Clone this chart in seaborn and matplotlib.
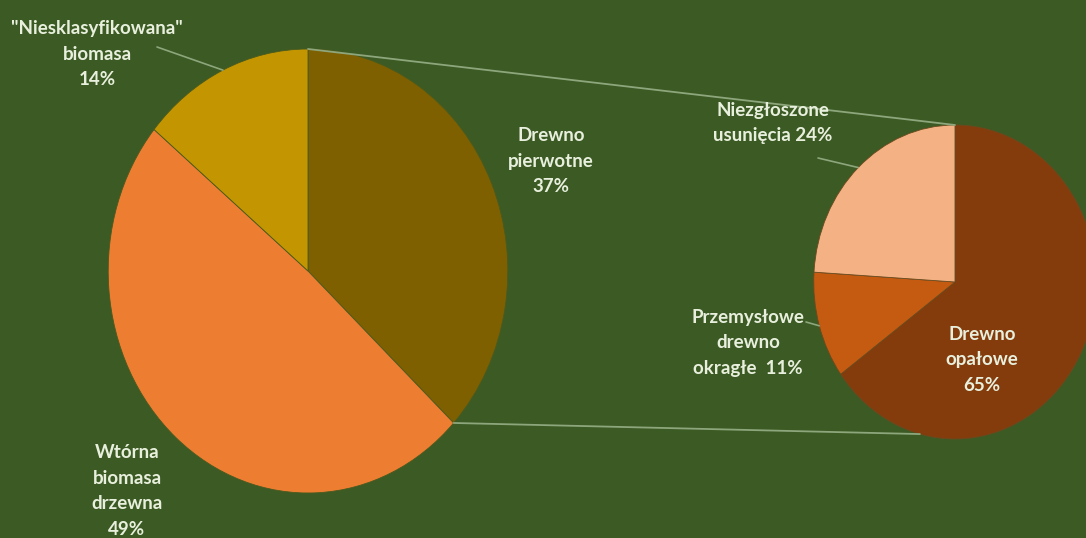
import numpy as np
import matplotlib
matplotlib.use("Agg")
import matplotlib.pyplot as plt
import seaborn as sns

# ---- data ----
main_names = ['Drewno\npierwotne', 'Wtórna\nbiomasa\ndrzewna', '"Niesklasyfikowana"\nbiomasa']
main_values = [37, 49, 14]
main_seps = ['\n', '\n', '\n']
sub_names = ['Drewno\nopałowe', 'Przemysłowe\ndrewno\nokragłe ', 'Niezgłoszone\nusunięcia']
sub_values = [65, 11, 24]
sub_seps = ['\n', ' ', ' ']

main_colors = ['#7f6000', '#ed7d31', '#c39500']
sub_colors = ['#843c0c', '#c55a11', '#f4b183']
BG = '#3c5a24'
TXT = '#e8f0dd'
LINE = '#8da67c'

sns.set_theme(style='white')
plt.rcParams['font.family'] = ['Lato', 'DejaVu Sans']

SX = 0.9          # horizontal squeeze of the reference image
W, H = 1086, 538

fig = plt.figure(figsize=(W / 100, H / 100), dpi=100)
fig.patch.set_facecolor(BG)
ax = fig.add_axes([0, 0, 1, 1])
ax.set_facecolor(BG)

def px(x, y):
    return x / SX, H - y

# pie geometry (layout)
big_c = px(308, 271); big_r = 222
small_c = px(955, 282); small_r = 157

ax.pie(main_values, colors=sns.color_palette(main_colors), startangle=90,
       counterclock=False, center=big_c, radius=big_r, frame=True,
       wedgeprops=dict(linewidth=0.6, edgecolor='#4a5a1e'))
ax.pie(sub_values, colors=sns.color_palette(sub_colors), startangle=90,
       counterclock=False, center=small_c, radius=small_r, frame=True,
       wedgeprops=dict(linewidth=0.6, edgecolor='#6a4a1e'))

def edge_pt(c, r, frac):
    th = 2 * np.pi * frac
    return c[0] + r * np.sin(th), c[1] + r * np.cos(th)

cum_main = np.cumsum([0] + main_values) / sum(main_values)
cum_sub = np.cumsum([0] + sub_values) / sum(sub_values)

# connector lines between the pies
p1 = edge_pt(big_c, big_r, 0.0)
q1 = edge_pt(small_c, small_r, 0.0)
p2 = edge_pt(big_c, big_r, cum_main[1])
q2 = edge_pt(small_c, small_r, 0.54)
ax.plot([p1[0], q1[0]], [p1[1], q1[1]], color=LINE, lw=1.3)
ax.plot([p2[0], q2[0]], [p2[1], q2[1]], color=LINE, lw=1.3)

# labels
def lab(names, values, seps, i):
    return f"{names[i]}{seps[i]}{values[i]}%"

fs = 13.5
kw = dict(ha='center', va='center', multialignment='center', color=TXT,
          fontsize=fs, fontweight='bold', linespacing=1.6)

ax.text(*px(551, 161), lab(main_names, main_values, main_seps, 0), **kw)
ax.text(*px(127, 491), lab(main_names, main_values, main_seps, 1), **kw)
ax.text(*px(97, 54), lab(main_names, main_values, main_seps, 2), **kw)
ax.text(*px(982, 360), lab(sub_names, sub_values, sub_seps, 0), **kw)
ax.text(*px(748, 343), lab(sub_names, sub_values, sub_seps, 1), **kw)
ax.text(*px(773, 123), lab(sub_names, sub_values, sub_seps, 2), **kw)

# leader lines
def leader(start, c, r, frac):
    e = edge_pt(c, r, frac)
    ax.plot([start[0], e[0]], [start[1], e[1]], color=LINE, lw=1.2)

leader(px(157, 47), big_c, big_r, (cum_main[2] + cum_main[3]) / 2)
leader(px(818, 158), small_c, small_r, (cum_sub[2] + cum_sub[3]) / 2)
leader(px(806, 322), small_c, small_r, (cum_sub[1] + cum_sub[2]) / 2)

ax.set_aspect('auto')
ax.set_xlim(0, W / SX)
ax.set_ylim(0, H)
ax.axis('off')

fig.savefig('out.png', dpi=100, facecolor=BG)
